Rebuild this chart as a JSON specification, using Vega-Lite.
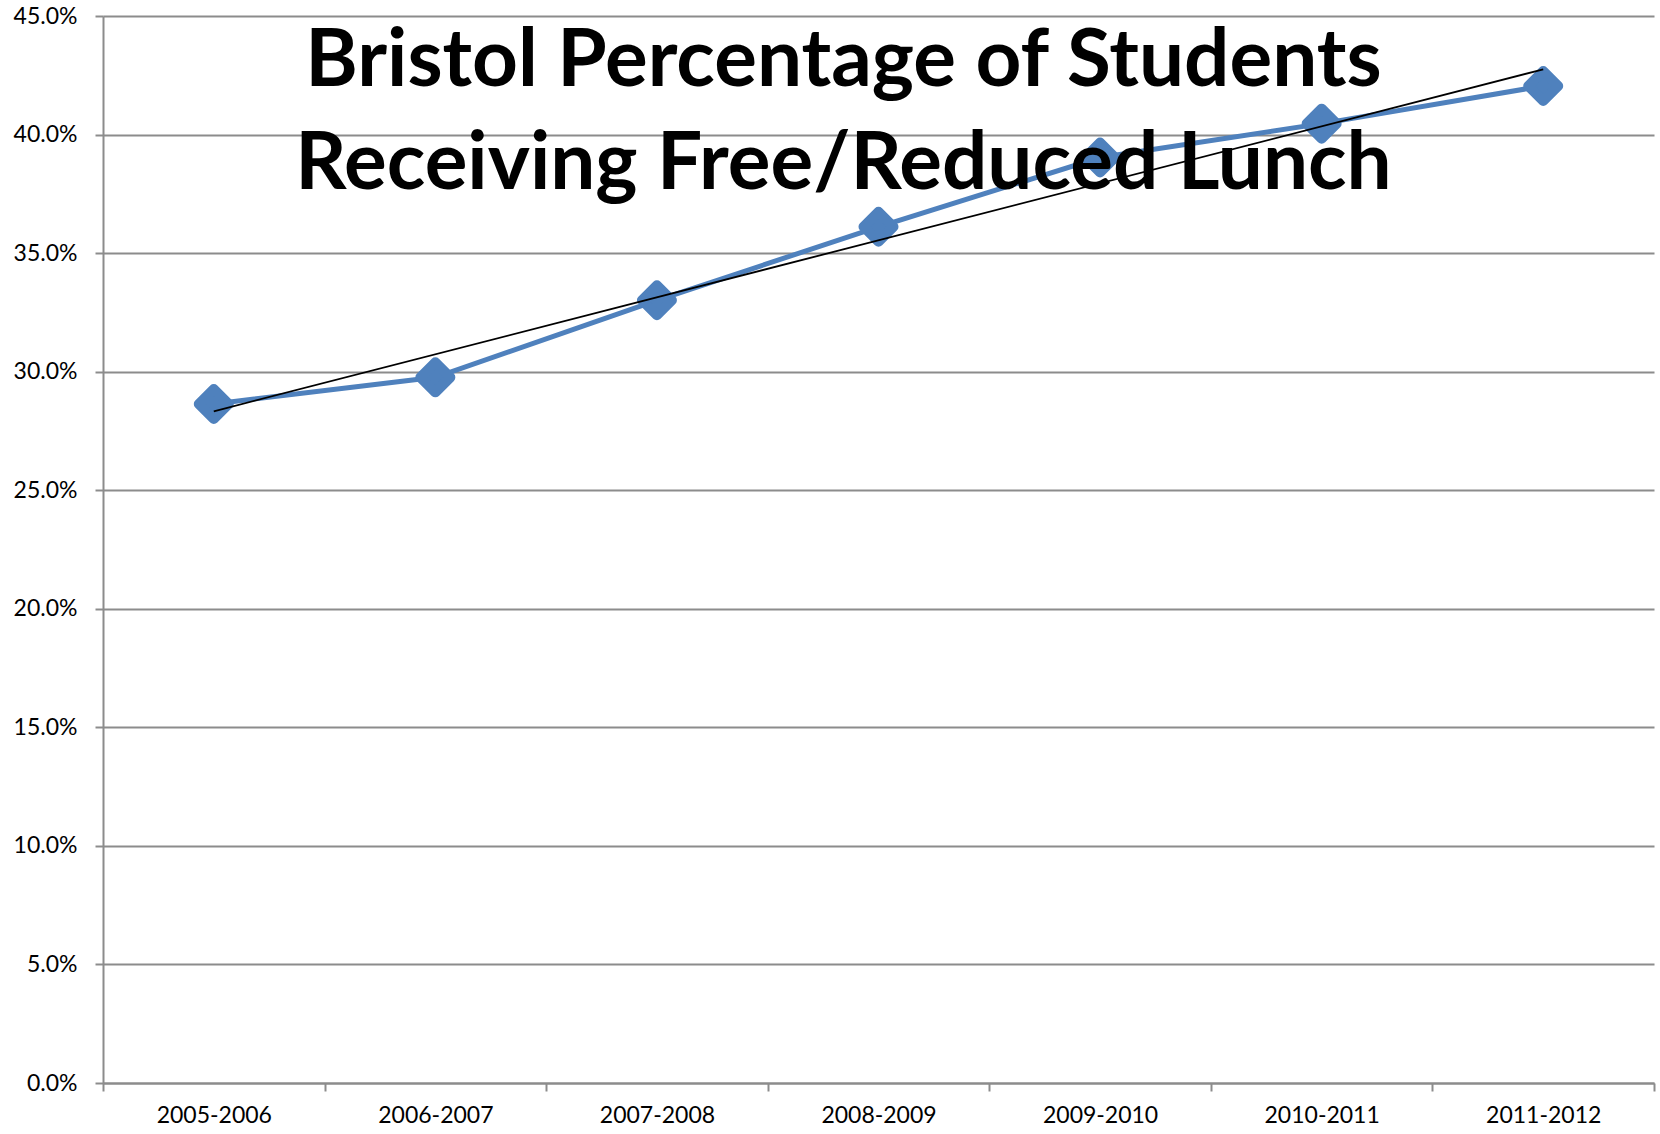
{
  "$schema": "https://vega.github.io/schema/vega-lite/v6.json",
  "width": 1551,
  "height": 1067,
  "autosize": {"type": "none"},
  "padding": {"left": 103, "top": 16, "right": 6, "bottom": 51},
  "background": "white",
  "config": {
    "view": {"stroke": null},
    "axis": {
      "domainColor": "#8c8c8c",
      "domainWidth": 2,
      "tickColor": "#8c8c8c",
      "tickWidth": 2,
      "tickSize": 8,
      "gridColor": "#8c8c8c",
      "gridWidth": 2,
      "labelFont": "Lato",
      "labelFontSize": 23,
      "labelColor": "black",
      "title": null
    }
  },
  "title": {
    "text": ["Bristol Percentage of Students", "Receiving Free/Reduced Lunch"],
    "font": "Lato",
    "fontWeight": "bold",
    "fontSize": 80,
    "color": "black",
    "anchor": "middle",
    "frame": "group",
    "offset": -201,
    "dx": -35,
    "lineHeight": 103
  },
  "datasets": {
    "main": [
      {"year": "2005-2006", "pct": 0.2864},
      {"year": "2006-2007", "pct": 0.2976},
      {"year": "2007-2008", "pct": 0.3301},
      {"year": "2008-2009", "pct": 0.3611},
      {"year": "2009-2010", "pct": 0.3903},
      {"year": "2010-2011", "pct": 0.4046},
      {"year": "2011-2012", "pct": 0.4205}
    ],
    "trend": [
      {"year": "2005-2006", "pct": 0.2833},
      {"year": "2011-2012", "pct": 0.4275}
    ]
  },
  "encoding": {
    "x": {
      "field": "year",
      "type": "nominal",
      "sort": null,
      "scale": {"type": "band", "paddingInner": 0, "paddingOuter": 0},
      "axis": {"labelAngle": 0, "tickBand": "extent", "grid": false, "labelPadding": 13}
    },
    "y": {
      "field": "pct",
      "type": "quantitative",
      "scale": {"domain": [0, 0.45], "nice": false},
      "axis": {"format": ".1%", "values": [0, 0.05, 0.1, 0.15, 0.2, 0.25, 0.3, 0.35, 0.4, 0.45], "grid": true, "labelPadding": 18}
    }
  },
  "layer": [
    {
      "data": {"name": "main"},
      "mark": {"type": "line", "color": "#4F81BD", "strokeWidth": 5}
    },
    {
      "data": {"name": "main"},
      "mark": {"type": "point", "shape": "diamond", "size": 900, "filled": true, "color": "#4F81BD", "stroke": "#4F81BD", "strokeWidth": 10, "strokeJoin": "round", "opacity": 1}
    },
    {
      "data": {"name": "trend"},
      "mark": {"type": "line", "color": "black", "strokeWidth": 1.8}
    }
  ]
}
